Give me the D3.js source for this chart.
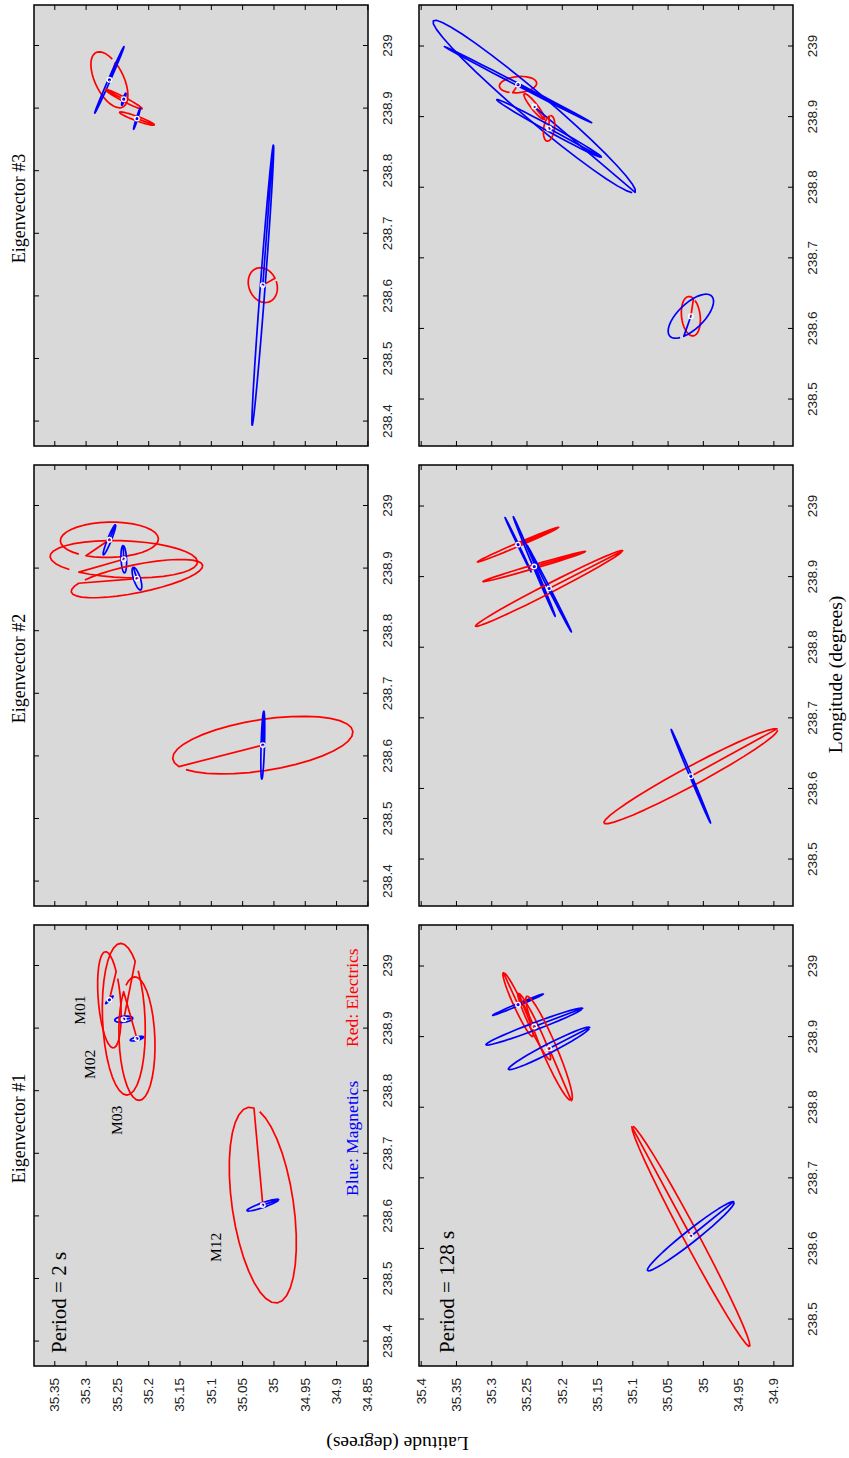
<!DOCTYPE html>
<html>
<head>
<meta charset="utf-8">
<script src="https://cdn.jsdelivr.net/npm/d3@7"></script>
<style>
  html, body { margin: 0; padding: 0; background: #fff; }
  svg { display: block; }
</style>
</head>
<body>
<script>
// ---- Stations -------------------------------------------------------------
const stationNames = ["M01", "M02", "M03", "M12"];
const stationLon   = [238.946, 238.915, 238.884, 238.618];
const stationLat   = [35.262, 35.239, 35.218, 35.017];

// ---- Panel titles ---------------------------------------------------------
const periodLabels = ["Period = 2 s", "Period = 128 s"];
const eigenTitles  = ["Eigenvector #1", "Eigenvector #2", "Eigenvector #3"];

// ---- Axis limits and ticks (one set per period) ---------------------------
const lonDomain2s   = [238.361, 239.0655];
const latDomain2s   = [34.849, 35.3824];
const lonDomain128s = [238.4342, 239.0588];
const latDomain128s = [34.8722, 35.4024];

const lonTicks2s   = [238.4, 238.5, 238.6, 238.7, 238.8, 238.9, 239];
const latTicks2s   = [34.85, 34.9, 34.95, 35, 35.05, 35.1, 35.15, 35.2, 35.25, 35.3, 35.35];
const lonTicks128s = [238.5, 238.6, 238.7, 238.8, 238.9, 239];
const latTicks128s = [34.9, 34.95, 35, 35.05, 35.1, 35.15, 35.2, 35.25, 35.3, 35.35, 35.4];

// ---- Polarization ellipses ------------------------------------------------
// One row per station (M01, M02, M03, M12):
// [semi-major axis: lon component (deg), lat component (deg),
//  minor/major ratio (sign gives sense of rotation), start phase (deg)]
const mag_2s_ev1 = [
  [0.0060, -0.0059, 0.15, 0],
  [0.0016, -0.0144, 0.33, 0],
  [0.0027, -0.0106, 0.25, 0],
  [0.0088, -0.0253, 0.14, 0]
];
const ele_2s_ev1 = [
  [0.0768, 0.0064, 0.23, -55],
  [0.1212, 0.0053, 0.28, -41],
  [0.0987, 0.0037, 0.29, 40],
  [0.1563, 0.0229, 0.31, -10]
];
const mag_2s_ev2 = [
  [0.0240, -0.0096, 0.12, 0],
  [0.0218, 0.0011, 0.20, 0],
  [0.0181, 0.0059, 0.28, 0],
  [0.0543, -0.0016, 0.05, 0]
];
const ele_2s_ev2 = [
  [0.0016, -0.0783, 0.36, 241],
  [-0.0048, -0.1177, 0.25, 233],
  [0.0213, -0.1049, 0.21, 150],
  [0.0224, -0.1438, -0.28, 161]
];
const mag_2s_ev3 = [
  [0.0532, -0.0234, 0.03, 0],
  [0.0096, -0.0032, 0.15, 0],
  [0.0170, -0.0053, 0.06, 0],
  [0.2245, -0.0170, 0.017, 5]
];
const ele_2s_ev3 = [
  [-0.0436, -0.0213, -0.47, 245],
  [0.0154, 0.0293, 0.10, 5],
  [-0.0101, -0.0277, 0.12, 0],
  [-0.0266, -0.0106, 0.78, 96]
];
const mag_128s_ev1 = [
  [0.0151, -0.0359, 0.04, 0],
  [0.0258, -0.0685, 0.07, 0],
  [0.0296, -0.0576, 0.10, 0],
  [0.0486, -0.0614, 0.11, 5]
];
const ele_128s_ev1 = [
  [0.0452, 0.0208, 0.12, 0],
  [0.0471, 0.0227, 0.11, 0],
  [-0.0739, -0.0316, 0.13, 0],
  [-0.1560, -0.0831, 0.06, 185]
];
const mag_128s_ev2 = [
  [0.0384, 0.0184, 0.02, 0],
  [-0.0705, -0.0297, 0.02, 0],
  [-0.0616, -0.0316, 0.02, 0],
  [-0.0663, -0.0279, 0.02, 0]
];
const ele_128s_ev2 = [
  [0.0246, -0.0576, 0.04, 0],
  [0.0213, -0.0727, 0.035, 0],
  [0.0535, -0.1043, 0.055, 0],
  [0.0663, -0.1232, 0.095, 5]
];
const mag_128s_ev3 = [
  [-0.0539, -0.1043, 0.015, 0],
  [-0.1215, -0.1431, 0.10, 0],
  [-0.0407, -0.0741, 0.05, 0],
  [0.0284, -0.0297, 0.44, 229]
];
const ele_128s_ev3 = [
  [0.0024, -0.0264, 0.43, 251],
  [-0.0180, -0.0142, 0.20, 0],
  [0.0180, -0.0028, 0.42, 20],
  [0.0279, 0.0033, 0.47, -30]
];

// ---- Layout (drawn in landscape, then turned a quarter counter-clockwise) --
const W = 1458, H = 849;
const panelW = 441;
const colX = [92, 552, 1012];
const rowY = [34, 419];
const rowH = [334, 374];
const BLUE = "#0000ff", RED = "#ff0000";
const SERIF = "'Liberation Serif', 'Times New Roman', serif";

const periods = [
  { lonDomain: lonDomain2s, latDomain: latDomain2s, lonTicks: lonTicks2s, latTicks: latTicks2s,
    mag: [mag_2s_ev1, mag_2s_ev2, mag_2s_ev3], ele: [ele_2s_ev1, ele_2s_ev2, ele_2s_ev3] },
  { lonDomain: lonDomain128s, latDomain: latDomain128s, lonTicks: lonTicks128s, latTicks: latTicks128s,
    mag: [mag_128s_ev1, mag_128s_ev2, mag_128s_ev3], ele: [ele_128s_ev1, ele_128s_ev2, ele_128s_ev3] }
];

const fmt = d => String(+d.toFixed(2));

const svg = d3.select("body").append("svg")
  .attr("width", 849).attr("height", 1458);

const fig = svg.append("g")
  .attr("transform", `translate(0,${W}) rotate(-90)`);

// Path: centre -> start point -> around the ellipse in 10 degree steps
function ellipsePath(lon0, lat0, e, x, y) {
  const [aLon, aLat, r, ph] = e;
  const bLon = -r * aLat, bLat = r * aLon;
  const pts = [[x(lon0), y(lat0)]];
  for (let k = 0; k <= 35; k++) {
    const t = (k * 10 + ph) * Math.PI / 180;
    pts.push([
      x(lon0 + aLon * Math.cos(t) + bLon * Math.sin(t)),
      y(lat0 + aLat * Math.cos(t) + bLat * Math.sin(t))
    ]);
  }
  return d3.line()(pts);
}

periods.forEach((p, ri) => {
  const h = rowH[ri];
  const x = d3.scaleLinear().domain(p.lonDomain).range([0, panelW]);
  const y = d3.scaleLinear().domain(p.latDomain).range([h, 0]);

  for (let ci = 0; ci < 3; ci++) {
    const g = fig.append("g").attr("transform", `translate(${colX[ci]},${rowY[ri]})`);

    g.append("rect").attr("width", panelW).attr("height", h).attr("fill", "#d9d9d9");

    // ellipses, station by station
    const marks = g.append("g");
    stationNames.forEach((s, si) => {
      marks.append("path")
        .attr("d", ellipsePath(stationLon[si], stationLat[si], p.ele[ci][si], x, y))
        .attr("fill", "none").attr("stroke", RED).attr("stroke-width", 1.7)
        .attr("stroke-linejoin", "round");
      marks.append("path")
        .attr("d", ellipsePath(stationLon[si], stationLat[si], p.mag[ci][si], x, y))
        .attr("fill", "none").attr("stroke", BLUE).attr("stroke-width", 1.7)
        .attr("stroke-linejoin", "round");
    });
    // station markers
    g.selectAll("circle.st").data(stationNames).join("circle")
      .attr("class", "st")
      .attr("cx", (d, i) => x(stationLon[i]))
      .attr("cy", (d, i) => y(stationLat[i]))
      .attr("r", 2.3).attr("fill", "none").attr("stroke", "#fff").attr("stroke-width", 1.3);

    // axes with inward ticks on all four sides
    g.append("g").attr("transform", `translate(0,${h})`)
      .call(d3.axisBottom(x).tickValues(p.lonTicks).tickSize(-5).tickPadding(14.5).tickFormat(fmt));
    g.append("g")
      .call(d3.axisTop(x).tickValues(p.lonTicks).tickSize(-5).tickFormat(""));
    g.append("g")
      .call(d3.axisLeft(y).tickValues(p.latTicks).tickSize(-5).tickPadding(12)
        .tickFormat(ci === 0 ? fmt : ""));
    g.append("g").attr("transform", `translate(${panelW},0)`)
      .call(d3.axisRight(y).tickValues(p.latTicks).tickSize(-5).tickFormat(""));

    g.selectAll(".domain").remove();
    g.selectAll(".tick line").attr("stroke", "#000").attr("stroke-width", 1);
    g.selectAll(".tick text")
      .attr("font-family", "'Liberation Sans', Arial, sans-serif")
      .attr("font-size", 13.5).attr("fill", "#222");

    g.append("rect").attr("width", panelW).attr("height", h)
      .attr("fill", "none").attr("stroke", "#000").attr("stroke-width", 1.5);

    // period label inside first column
    if (ci === 0) {
      g.append("text").attr("x", 13).attr("y", ri === 0 ? 32 : 35)
        .attr("font-family", SERIF)
        .attr("font-size", 21).attr("fill", "#000")
        .text(periodLabels[ri]);
    }

    // station names and colour legend in the first panel
    if (ri === 0 && ci === 0) {
      const labelPos = [[238.906, 35.301], [238.8195, 35.285], [238.730, 35.2423], [238.527, 35.0842]];
      stationNames.forEach((s, si) => {
        g.append("text").attr("x", x(labelPos[si][0])).attr("y", y(labelPos[si][1]))
          .attr("font-family", SERIF)
          .attr("font-size", 15.5).attr("fill", "#000").text(s);
      });
      g.append("text").attr("x", 170).attr("y", h - 10)
        .attr("font-family", SERIF)
        .attr("font-size", 17.5).attr("fill", BLUE).text("Blue: Magnetics");
      g.append("text").attr("x", 319).attr("y", h - 10)
        .attr("font-family", SERIF)
        .attr("font-size", 17.5).attr("fill", RED).text("Red: Electrics");
    }
  }
});

// column titles
eigenTitles.forEach((t, ci) => {
  fig.append("text").attr("x", colX[ci] + panelW / 2 + 17).attr("y", 25)
    .attr("text-anchor", "middle")
    .attr("font-family", SERIF)
    .attr("font-size", 18).attr("fill", "#000").text(t);
});

// axis titles
fig.append("text").attr("x", colX[1] + panelW / 2 + 11).attr("y", 842)
  .attr("text-anchor", "middle")
  .attr("font-family", SERIF)
  .attr("font-size", 19.5).attr("fill", "#000").text("Longitude (degrees)");

fig.append("text")
  .attr("transform", "translate(21,397.5) rotate(-90)")
  .attr("text-anchor", "middle")
  .attr("font-family", SERIF)
  .attr("font-size", 19.5).attr("fill", "#000").text("Latitude (degrees)");
</script>
</body>
</html>
